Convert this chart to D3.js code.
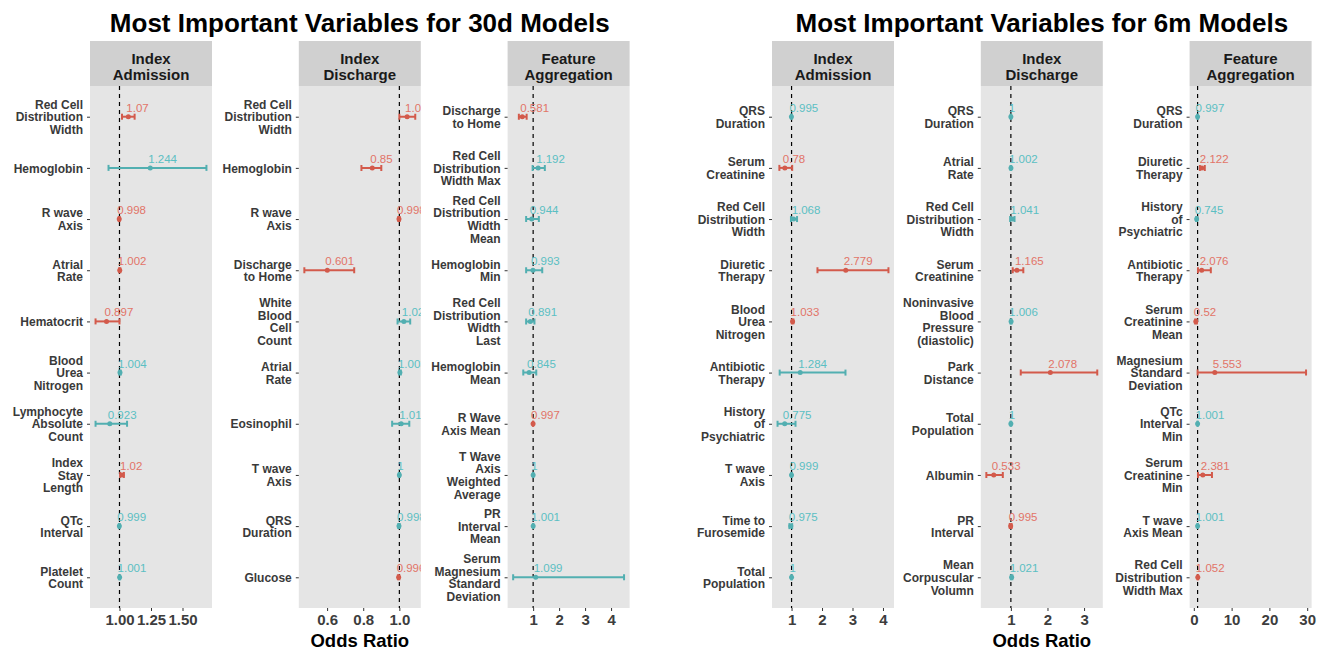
<!DOCTYPE html>
<html>
<head>
<meta charset="utf-8">
<script src="https://cdn.jsdelivr.net/npm/d3@7"></script>
<style>
  body { margin: 0; background: #fff; }
  svg { font-family: "Liberation Sans", Arial, sans-serif; }
</style>
</head>
<body>
<svg id="chart" width="1334" height="653"></svg>
<script>
// ---- data ----
const titles = ["Most Important Variables for 30d Models", "Most Important Variables for 6m Models"];
const stripLabels = [["Index", "Admission"], ["Index", "Discharge"], ["Feature", "Aggregation"]];

// 30d, index admission
const adm30Vars = ["Red Cell\nDistribution\nWidth", "Hemoglobin", "R wave\nAxis", "Atrial\nRate", "Hematocrit",
  "Blood\nUrea\nNitrogen", "Lymphocyte\nAbsolute\nCount", "Index\nStay\nLength", "QTc\nInterval", "Platelet\nCount"];
const adm30OR = [1.07, 1.244, 0.998, 1.002, 0.897, 1.004, 0.923, 1.02, 0.999, 1.001];
const adm30Lo = [1.02, 0.913, 0.994, 0.997, 0.81, 0.998, 0.81, 1.005, 0.995, 0.997];
const adm30Hi = [1.12, 1.69, 1.002, 1.007, 1.0, 1.010, 1.06, 1.035, 1.003, 1.005];
const adm30Sig = [true, false, true, true, true, false, false, true, false, false];
const adm30Ticks = [1.00, 1.25, 1.50];

// 30d, index discharge
const dis30Vars = ["Red Cell\nDistribution\nWidth", "Hemoglobin", "R wave\nAxis", "Discharge\nto Home",
  "White\nBlood\nCell\nCount", "Atrial\nRate", "Eosinophil", "T wave\nAxis", "QRS\nDuration", "Glucose"];
const dis30OR = [1.043, 0.85, 0.998, 0.601, 1.025, 1.003, 1.01, 1, 0.998, 0.996];
const dis30Lo = [1.0, 0.79, 0.994, 0.474, 0.99, 0.998, 0.96, 0.997, 0.994, 0.992];
const dis30Hi = [1.088, 0.90, 1.002, 0.75, 1.06, 1.008, 1.055, 1.003, 1.002, 1.0];
const dis30Sig = [true, true, true, true, false, false, false, false, false, true];
const dis30Ticks = [0.6, 0.8, 1.0];

// 30d, feature aggregation
const agg30Vars = ["Discharge\nto Home", "Red Cell\nDistribution\nWidth Max", "Red Cell\nDistribution\nWidth\nMean",
  "Hemoglobin\nMin", "Red Cell\nDistribution\nWidth\nLast", "Hemoglobin\nMean", "R Wave\nAxis Mean",
  "T Wave\nAxis\nWeighted\nAverage", "PR\nInterval\nMean", "Serum\nMagnesium\nStandard\nDeviation"];
const agg30OR = [0.581, 1.192, 0.944, 0.993, 0.891, 0.845, 0.997, 1, 1.001, 1.099];
const agg30Lo = [0.45, 0.98, 0.73, 0.73, 0.73, 0.62, 0.99, 0.99, 0.99, 0.23];
const agg30Hi = [0.75, 1.45, 1.22, 1.35, 1.05, 1.12, 1.005, 1.01, 1.01, 4.5];
const agg30Sig = [true, false, false, false, false, false, true, false, false, false];
const agg30Ticks = [1, 2, 3, 4];

// 6m, index admission
const adm6Vars = ["QRS\nDuration", "Serum\nCreatinine", "Red Cell\nDistribution\nWidth", "Diuretic\nTherapy",
  "Blood\nUrea\nNitrogen", "Antibiotic\nTherapy", "History\nof\nPsychiatric", "T wave\nAxis",
  "Time to\nFurosemide", "Total\nPopulation"];
const adm6OR = [0.995, 0.78, 1.068, 2.779, 1.033, 1.284, 0.775, 0.999, 0.975, 1];
const adm6Lo = [0.98, 0.6, 0.98, 1.85, 1.01, 0.61, 0.54, 0.99, 0.93, 0.99];
const adm6Hi = [1.01, 1.02, 1.18, 4.18, 1.06, 2.77, 1.13, 1.01, 1.02, 1.01];
const adm6Sig = [false, true, false, true, true, false, false, false, false, false];
const adm6Ticks = [1, 2, 3, 4];

// 6m, index discharge
const dis6Vars = ["QRS\nDuration", "Atrial\nRate", "Red Cell\nDistribution\nWidth", "Serum\nCreatinine",
  "Noninvasive\nBlood\nPressure\n(diastolic)", "Park\nDistance", "Total\nPopulation", "Albumin",
  "PR\nInterval", "Mean\nCorpuscular\nVolumn"];
const dis6OR = [1, 1.002, 1.041, 1.165, 1.006, 2.078, 1, 0.533, 0.995, 1.021];
const dis6Lo = [0.99, 0.99, 0.98, 1.05, 0.99, 1.27, 0.99, 0.33, 0.97, 1.0];
const dis6Hi = [1.01, 1.01, 1.10, 1.34, 1.02, 3.36, 1.01, 0.78, 1.02, 1.04];
const dis6Sig = [false, false, false, true, false, true, false, true, true, false];
const dis6Ticks = [1, 2, 3];

// 6m, feature aggregation
const agg6Vars = ["QRS\nDuration", "Diuretic\nTherapy", "History\nof\nPsychiatric", "Antibiotic\nTherapy",
  "Serum\nCreatinine\nMean", "Magnesium\nStandard\nDeviation", "QTc\nInterval\nMin", "Serum\nCreatinine\nMin",
  "T wave\nAxis Mean", "Red Cell\nDistribution\nWidth Max"];
const agg6OR = [0.997, 2.122, 0.745, 2.076, 0.52, 5.553, 1.001, 2.381, 1.001, 1.052];
const agg6Lo = [0.95, 1.6, 0.6, 1.1, 0.35, 1.0, 0.95, 1.1, 0.95, 0.95];
const agg6Hi = [1.05, 2.9, 0.9, 4.5, 0.78, 29.7, 1.05, 4.8, 1.05, 1.15];
const agg6Sig = [false, true, false, true, true, true, false, true, false, true];
const agg6Ticks = [0, 10, 20, 30];

const groups = [
  [
    {vars: adm30Vars, or: adm30OR, lo: adm30Lo, hi: adm30Hi, sig: adm30Sig, ticks: adm30Ticks, fmt: d3.format(".2f")},
    {vars: dis30Vars, or: dis30OR, lo: dis30Lo, hi: dis30Hi, sig: dis30Sig, ticks: dis30Ticks, fmt: d3.format(".1f")},
    {vars: agg30Vars, or: agg30OR, lo: agg30Lo, hi: agg30Hi, sig: agg30Sig, ticks: agg30Ticks, fmt: d3.format("d")}
  ],
  [
    {vars: adm6Vars, or: adm6OR, lo: adm6Lo, hi: adm6Hi, sig: adm6Sig, ticks: adm6Ticks, fmt: d3.format("d")},
    {vars: dis6Vars, or: dis6OR, lo: dis6Lo, hi: dis6Hi, sig: dis6Sig, ticks: dis6Ticks, fmt: d3.format("d")},
    {vars: agg6Vars, or: agg6OR, lo: agg6Lo, hi: agg6Hi, sig: agg6Sig, ticks: agg6Ticks, fmt: d3.format("d")}
  ]
];

// ---- layout ----
const svg = d3.select("#chart");
const groupX = [90, 772],
  panelW = 122, panelStep = 208.8,
  stripTop = 41, panelTop = 86, panelBottom = 608;
const lineCol = {true: "#D35A4B", false: "#52AFB1"},
  textCol = {true: "#E27468", false: "#5BBFC3"};

groups.forEach((panels, gi) => {
  let gx = groupX[gi];
  svg.append("text")
    .attr("x", gx + (panelStep * 2 + panelW) / 2)
    .attr("y", 32)
    .attr("text-anchor", "middle")
    .attr("font-weight", "bold")
    .attr("font-size", 26)
    .attr("fill", "#000")
    .text(titles[gi]);

  panels.forEach((p, pi) => {
    let px = gx + pi * panelStep,
      g = svg.append("g").attr("transform", `translate(${px},0)`),
      clipId = `clip-${gi}-${pi}`;

    // ggplot-like 5% expansion of the data range
    let mn = d3.min(p.lo), mx = d3.max(p.hi), pad = (mx - mn) * 0.05;
    let x = d3.scaleLinear().domain([mn - pad, mx + pad]).range([0, panelW]);
    let y = d3.scalePoint().domain(p.vars).range([panelTop, panelBottom]).padding(0.6);

    g.append("rect").attr("x", 0).attr("y", stripTop).attr("width", panelW)
      .attr("height", panelTop - stripTop).attr("fill", "#D0D0D0");
    stripLabels[pi].forEach((s, i) => {
      g.append("text").attr("x", panelW / 2).attr("y", 63.5 + i * 16)
        .attr("text-anchor", "middle").attr("font-weight", "bold").attr("font-size", 15)
        .attr("fill", "#1a1a1a").text(s);
    });

    g.append("rect").attr("x", 0).attr("y", panelTop).attr("width", panelW)
      .attr("height", panelBottom - panelTop).attr("fill", "#E5E5E5");
    g.append("clipPath").attr("id", clipId).append("rect")
      .attr("x", 0).attr("y", panelTop).attr("width", panelW).attr("height", panelBottom - panelTop);

    let body = g.append("g").attr("clip-path", `url(#${clipId})`);
    body.append("line")
      .attr("x1", x(1)).attr("x2", x(1))
      .attr("y1", panelTop).attr("y2", panelBottom)
      .attr("stroke", "#000").attr("stroke-width", 1.2).attr("stroke-dasharray", "4,4");

    let rows = p.vars.map((v, i) => ({v: v, or: p.or[i], lo: p.lo[i], hi: p.hi[i], sig: p.sig[i]}));
    let row = body.selectAll("g.row").data(rows).enter().append("g").attr("class", "row");
    row.append("line")
      .attr("x1", d => x(d.lo)).attr("x2", d => x(d.hi))
      .attr("y1", d => y(d.v)).attr("y2", d => y(d.v))
      .attr("stroke", d => lineCol[d.sig]).attr("stroke-width", 2);
    ["lo", "hi"].forEach(k => {
      row.append("line")
        .attr("x1", d => x(d[k])).attr("x2", d => x(d[k]))
        .attr("y1", d => y(d.v) - 3).attr("y2", d => y(d.v) + 3)
        .attr("stroke", d => lineCol[d.sig]).attr("stroke-width", 2);
    });
    row.append("circle")
      .attr("cx", d => x(d.or)).attr("cy", d => y(d.v)).attr("r", 2.5)
      .attr("fill", d => lineCol[d.sig]);
    row.append("text")
      .attr("x", d => x(d.or) - 2).attr("y", d => y(d.v) - 5)
      .attr("font-size", 11.5).attr("fill", d => textCol[d.sig])
      .text(d => String(d.or));

    // y axis with wrapped labels
    let ya = g.append("g").call(d3.axisLeft(y).tickSize(3).tickPadding(4));
    ya.select(".domain").remove();
    ya.selectAll(".tick line").attr("stroke", "#333");
    ya.selectAll(".tick text").each(function (d) {
      let t = d3.select(this), parts = d.split("\n"), n = parts.length;
      t.text(null).attr("dy", null)
        .attr("font-size", 12).attr("font-weight", "bold").attr("fill", "#3a3a3a")
        .attr("font-family", "Liberation Sans, Arial, sans-serif");
      parts.forEach((s, i) => {
        t.append("tspan").attr("x", -7).attr("y", (i - (n - 1) / 2) * 12.6)
          .attr("dy", "0.35em").text(s);
      });
    });

    let xa = g.append("g").attr("transform", `translate(0,${panelBottom})`)
      .call(d3.axisBottom(x).tickValues(p.ticks).tickFormat(p.fmt).tickSize(3).tickPadding(3));
    xa.select(".domain").remove();
    xa.selectAll(".tick line").attr("stroke", "#333");
    xa.selectAll(".tick text").attr("font-size", 15).attr("font-weight", "bold")
      .attr("fill", "#3d3d3d").attr("font-family", "Liberation Sans, Arial, sans-serif");

    if (pi === 1) {
      g.append("text").attr("x", panelW / 2).attr("y", 647)
        .attr("text-anchor", "middle").attr("font-weight", "bold").attr("font-size", 18.5)
        .attr("fill", "#000").text("Odds Ratio");
    }
  });
});
</script>
</body>
</html>
